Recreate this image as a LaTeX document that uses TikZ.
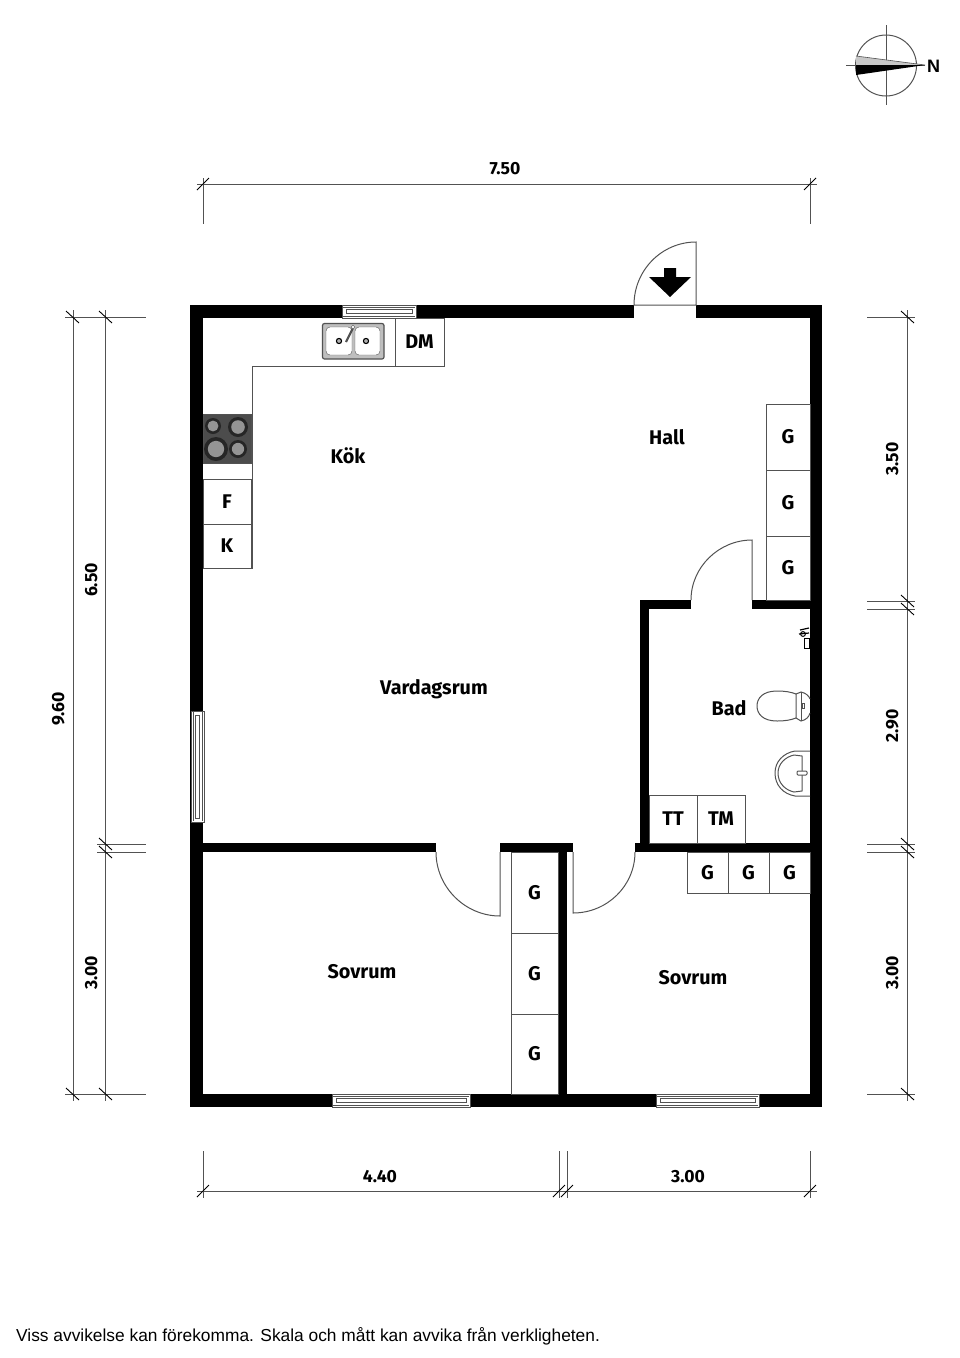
\documentclass[tikz,border=0pt]{standalone}
\usepackage{fontspec}
\setmainfont{Fira Sans}
\newfontfamily\notefont{Liberation Sans}
\usetikzlibrary{positioning, calc}
\definecolor{lineGrey}{gray}{0.32}
\tikzset{
	wall/.style = {fill=black, draw=none},
	thin line/.style = {draw=lineGrey, line width=1pt},
	dim line/.style = {draw=lineGrey, line width=1pt},
	dim tick/.style = {draw=black, line width=0.9pt},
	room/.style = {font=\fontsize{19.8}{22}\selectfont\bfseries, inner sep=0pt, text height=13.7pt, text depth=0pt},
	dim label/.style = {font=\fontsize{17.6}{20}\selectfont\bfseries, inner sep=0pt, text height=12.2pt, text depth=0pt},
	unit/.style = {thin line, font=\fontsize{19.8}{22}\selectfont\bfseries, inner sep=0pt, outer sep=0pt, minimum width=#1, text height=13.7pt, text depth=0pt},
	unit/.default = 41pt
}
\newcommand{\hwindow}[3]{
	\draw[thin line, fill=white] (#1,#3) rectangle (#2,#3+13);
	\draw[thin line] (#1+1,#3+2) -- (#2-1,#3+2) (#1+1,#3+11) -- (#2-1,#3+11);
	\draw[thin line] (#1+4,#3+4.5) rectangle (#2-4,#3+8.5);
}
\newcommand{\vwindow}[3]{
	\draw[thin line, fill=white] (#3,#1) rectangle (#3+13,#2);
	\draw[thin line] (#3+2,#1+1) -- (#3+2,#2-1) (#3+11,#1+1) -- (#3+11,#2-1);
	\draw[thin line] (#3+4.5,#1+4) rectangle (#3+8.5,#2-4);
}
\begin{document}
\begin{tikzpicture}[x=1pt, y=-1pt, node distance = 0pt]
\useasboundingbox (0,0) rectangle (960,1358);

% outer walls
\fill[wall] (190,305) rectangle (634,318);
\fill[wall] (696,305) rectangle (822,318);
\fill[wall] (190,305) rectangle (203,1107);
\fill[wall] (810,305) rectangle (822,1107);
\fill[wall] (190,1094) rectangle (822,1107);

% inner walls
\fill[wall] (203,843) rectangle (436,852);
\fill[wall] (500,843) rectangle (573,852);
\fill[wall] (558,843) rectangle (567,1094);
\fill[wall] (635,843) rectangle (810,852);
\fill[wall] (640,600) rectangle (649,843);
\fill[wall] (640,600) rectangle (691,609);
\fill[wall] (752,600) rectangle (810,609);

% windows
\hwindow{342}{416}{305}
\hwindow{332}{470}{1094}
\hwindow{656}{759}{1094}
\vwindow{711}{822}{191}

% doors
\draw[thin line] (634,305) .. controls (634,270) and (662,242) .. (696,242) -- (696,305) -- cycle;
\draw[thin line] (691,600) .. controls (691,567) and (719,540) .. (752,540) -- (752,600);
\draw[thin line] (436,852) .. controls (436,887) and (465,916) .. (500,916) -- (500,852);
\draw[thin line] (635,852) .. controls (635,886) and (607,913) .. (573,913) -- (573,852);
\fill[black] (664,268) -- (676,268) -- (676,277) -- (691,277) -- (670,297) -- (649,277) -- (664,277) -- cycle;

% kitchen
\draw[thin line] (203,568) -- (252,568) -- (252,366) -- (444,366) -- (444,318);
\node[unit=49pt, minimum height=48pt, draw, anchor=north west] (dm) at (395,318) {DM};
\node[unit=48pt, minimum height=45pt, draw, anchor=north west] (fridge) at (203,479) {F};
\node[unit=48pt, minimum height=44pt, draw, below = of fridge] (freezer) {K};
\draw[thin line, fill=black!70] (203,414) rectangle (251,463);
\foreach \px/\py/\pr in {213/426/8, 238/427/10, 216/449/12, 238/449/9} {
	\fill[black!85] (\px,\py) circle (\pr);
	\fill[black!42] (\px,\py) circle (\pr*0.68);
}
\draw[lineGrey, line width=1.2pt, rounded corners=2pt, fill=black!25] (322.5,323.5) rectangle (384,359);
\draw[lineGrey, rounded corners=4pt, fill=white] (326,327) rectangle (352,355);
\draw[lineGrey, rounded corners=4pt, fill=white] (355,327) rectangle (380,355);
\foreach \px in {339,366} {
	\draw[black, line width=1.1pt, fill=black!30] (\px,341) circle (2.6);
}
\draw[lineGrey, line width=2.2pt] (353,328) -- (346,342);
\draw[lineGrey, fill=white] (353,327) circle (1.8);

% hall cupboards
\node[unit=44pt, minimum height=66pt, draw, anchor=north west] (g1) at (766,404) {G};
\node[unit=44pt, minimum height=66pt, draw, below = of g1] (g2) {G};
\node[unit=44pt, minimum height=64pt, draw, below = of g2] (g3) {G};

% bedroom cupboards
\node[unit=47pt, minimum height=81pt, draw, anchor=north west] (g4) at (511,852) {G};
\node[unit=47pt, minimum height=81pt, draw, below = of g4] (g5) {G};
\node[unit=47pt, minimum height=80pt, draw, below = of g5] (g6) {G};
\node[unit=41pt, minimum height=41pt, draw, anchor=north west] (g7) at (687,852) {G};
\node[unit=41pt, minimum height=41pt, draw, right = of g7] (g8) {G};
\node[unit=41pt, minimum height=41pt, draw, right = of g8] (g9) {G};

% bathroom
\node[unit=48pt, minimum height=48pt, draw, anchor=north west] (tt) at (649,795) {TT};
\node[unit=48pt, minimum height=48pt, draw, right = of tt] (tm) {TM};
\draw[thin line] (777,691) .. controls (763,691) and (757,698) .. (757,706) .. controls (757,714) and (763,721) .. (777,721) .. controls (785,721) and (791,720) .. (796,718) -- (796,694) .. controls (791,692) and (785,691) .. (777,691) -- cycle;
\draw[thin line] (796,694) -- (801,692) .. controls (806,693) and (809,696) .. (810,699);
\draw[thin line] (796,718) -- (801,721) .. controls (806,720) and (809,717) .. (810,713);
\draw[thin line] (801,692) -- (801,721);
\draw[thin line] (802,703) rectangle (804,708);
\draw[thin line] (810,751) -- (795,751) .. controls (783,753) and (775,762) .. (775,773) .. controls (775,785) and (783,794) .. (795,796) -- (810,796);
\draw[thin line] (802,756) -- (794,755) .. controls (785,757) and (778,764) .. (778,773) .. controls (778,783) and (785,790) .. (794,792) -- (802,791) -- cycle;
\draw[thin line, rounded corners=1pt, fill=white] (797,771) rectangle (807,775);
\draw[black, line width=1.2pt] (800,630) -- (809,628) (799,634) -- (809,633);
\draw[black, line width=1pt] (803,634) circle (2.4);
\draw[black, line width=1pt] (804,638) rectangle (809,648);

% room labels
\node[room] (kok) at (348,457) {Kök};
\node[room] (hall) at (667,438) {Hall};
\node[room] (vardagsrum) at (434,688) {Vardagsrum};
\node[room] (bad) at (729,709) {Bad};
\node[room] (sovrum1) at (362,972) {Sovrum};
\node[room] (sovrum2) at (693,978) {Sovrum};

% dimensions top and bottom
\draw[dim line] (197,184) -- (817,184);
\draw[dim line] (197,1191) -- (817,1191);
\foreach \px in {203,810} {
	\draw[dim line] (\px,178) -- (\px,224);
	\draw[dim tick] (\px-6,190) -- (\px+6,178);
}
\foreach \px in {203,559,567,810} {
	\draw[dim line] (\px,1151) -- (\px,1198);
	\draw[dim tick] (\px-6,1197) -- (\px+6,1185);
}
\node[dim label] (d750) at (505,168) {7.50};
\node[dim label] (d440) at (380,1176) {4.40};
\node[dim label] (d300b) at (688,1176) {3.00};

% dimensions left
\draw[dim line] (73,310) -- (73,1101);
\draw[dim line] (105,310) -- (105,1101);
\foreach \py in {317,844,852,1094} {
	\draw[dim line] (97,\py) -- (146,\py);
	\draw[dim tick] (99,\py-6) -- (112,\py+6);
}
\foreach \py in {317,1094} {
	\draw[dim line] (65,\py) -- (97,\py);
	\draw[dim tick] (66,\py-6) -- (79,\py+6);
}
\node[dim label, rotate=90] (d960) at (58,709) {9.60};
\node[dim label, rotate=90] (d650) at (91,580) {6.50};
\node[dim label, rotate=90] (d300l) at (91,973) {3.00};

% dimensions right
\draw[dim line] (907,310) -- (907,1101);
\foreach \py in {317,601,609,844,852,1094} {
	\draw[dim line] (867,\py) -- (915,\py);
	\draw[dim tick] (901,\py-6) -- (914,\py+6);
}
\node[dim label, rotate=90] (d350) at (892,459) {3.50};
\node[dim label, rotate=90] (d290) at (892,726) {2.90};
\node[dim label, rotate=90] (d300r) at (892,973) {3.00};

% compass
\draw[lineGrey, line width=1pt] (886,65.5) circle (30.5);
\draw[lineGrey, line width=1pt] (886,25) -- (886,105) (846,65) -- (925,65);
\fill[black!22] (856,56) -- (925,65) -- (856,65) -- cycle;
\draw[lineGrey, line width=0.6pt] (856,56) -- (925,65);
\fill[black] (856,65) -- (925,65) -- (856,75) -- cycle;
\node[font=\notefont\fontsize{18}{20}\selectfont\bfseries, inner sep=0pt] (north) at (933.5,66) {N};

% note
\node[font=\notefont\fontsize{17.35}{20}\selectfont, inner sep=0pt, anchor=west] (note) at (16,1336) {Viss avvikelse kan förekomma. Skala och mått kan avvika från verkligheten.};
\end{tikzpicture}
\end{document}
